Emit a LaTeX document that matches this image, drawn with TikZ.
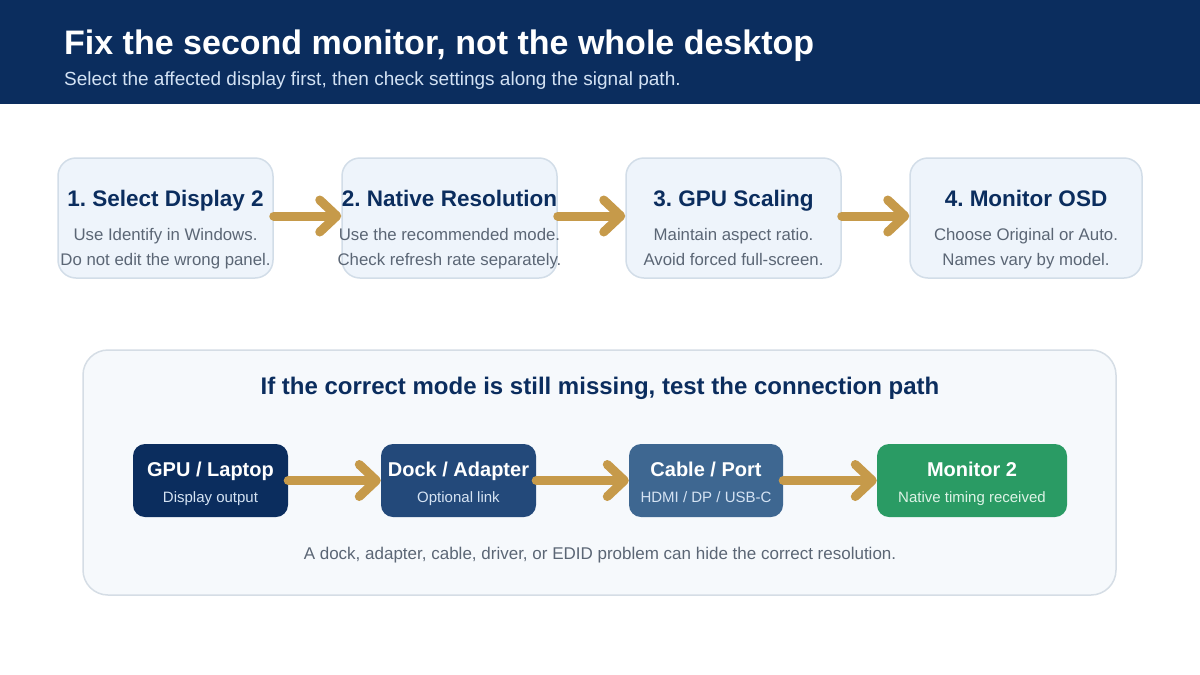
\documentclass[tikz,border=0pt]{standalone}
\usepackage{fontspec}
\setmainfont{Liberation Sans}
\usetikzlibrary{arrows.meta}
\usetikzlibrary{positioning}
\frenchspacing

\definecolor{navy}{HTML}{0B2D5E}
\definecolor{subtle}{HTML}{D3E2F4}
\definecolor{cardfill}{HTML}{EEF4FB}
\definecolor{cardline}{HTML}{D2DDE8}
\definecolor{slate}{HTML}{5B6675}
\definecolor{gold}{HTML}{C69A4A}
\definecolor{panelfill}{HTML}{F6F9FC}
\definecolor{panelline}{HTML}{D5DDE5}
\definecolor{dockblue}{HTML}{23497A}
\definecolor{cableblue}{HTML}{3E6791}
\definecolor{monitorgreen}{HTML}{2A9B64}
\definecolor{palelabel}{HTML}{D5E3F3}
\definecolor{palegreen}{HTML}{DDF3E6}

\tikzset{
	stepcard/.style={draw=cardline, line width=1.5pt, fill=cardfill, rounded corners=18pt,
		minimum width=215pt, minimum height=120pt, inner sep=0pt},
	cardtitle/.style={anchor=base, text=navy, font=\fontsize{22.5}{27}\selectfont\bfseries},
	cardtext/.style={anchor=base, text=slate, font=\fontsize{16.8}{20}\selectfont},
	linkbox/.style={rounded corners=12pt, minimum height=73pt, inner sep=0pt},
	linktitle/.style={anchor=base, text=white, font=\fontsize{20}{24}\selectfont\bfseries},
	linktext/.style={anchor=base, text=palelabel, font=\fontsize{15}{18}\selectfont},
	flow/.style={draw=gold, line width=9pt, line cap=round,
		-{Straight Barb[length=17pt,width=32pt,round]}},
}

\begin{document}
\begin{tikzpicture}[x=1pt, y=-1pt]
		\useasboundingbox (0,0) rectangle (1200,675);
		\fill[white] (0,0) rectangle (1200,675);

		% header
		\fill[navy] (0,0) rectangle (1200,104);
		\node[anchor=base west, text=white, font=\fontsize{34}{40}\selectfont\bfseries, inner sep=0pt]
			(title) at (64,54) {Fix the second monitor, not the whole desktop};
		\node[anchor=base west, text=subtle, font=\fontsize{19}{22}\selectfont, inner sep=0pt]
			(subtitle) at (64,85) {Select the affected display first, then check settings along the signal path.};

		% steps
		\node[stepcard] (s1) at (165.5,218) {};
		\node[stepcard] (s2) at (449.5,218) {};
		\node[stepcard] (s3) at (733.5,218) {};
		\node[stepcard, minimum width=232pt] (s4) at (1026,218) {};

		\draw[flow] ([yshift=2pt]s1.east) -- ([yshift=2pt]s2.west);
		\draw[flow] ([yshift=2pt]s2.east) -- ([yshift=2pt]s3.west);
		\draw[flow] ([yshift=2pt]s3.east) -- ([yshift=2pt]s4.west);

		\node[cardtitle] (s1title) at (165.5,206) {1. Select Display 2};
		\node[cardtext] (s1a) at (165.5,240.5) {Use Identify in Windows.};
		\node[cardtext] (s1b) at (165.5,265) {Do not edit the wrong panel.};

		\node[cardtitle] (s2title) at (449.5,206) {2. Native Resolution};
		\node[cardtext] (s2a) at (449.5,240.5) {Use the recommended mode.};
		\node[cardtext] (s2b) at (449.5,265) {Check refresh rate separately.};

		\node[cardtitle] (s3title) at (733.5,206) {3. GPU Scaling};
		\node[cardtext] (s3a) at (733.5,240.5) {Maintain aspect ratio.};
		\node[cardtext] (s3b) at (733.5,265) {Avoid forced full-screen.};

		\node[cardtitle] (s4title) at (1026,206) {4. Monitor OSD};
		\node[cardtext] (s4a) at (1026,240.5) {Choose Original or Auto.};
		\node[cardtext] (s4b) at (1026,265) {Names vary by model.};

		% connection path
		\node[draw=panelline, line width=1.5pt, fill=panelfill, rounded corners=25pt,
			minimum width=1033pt, minimum height=245pt, inner sep=0pt] (panel) at (599.5,472.5) {};
		\node[anchor=base, text=navy, font=\fontsize{24}{29}\selectfont\bfseries]
			(paneltitle) at (600,394.5) {If the correct mode is still missing, test the connection path};

		\node[linkbox, fill=navy, minimum width=155pt] (gpu) at (210.5,480.5) {};
		\node[linkbox, fill=dockblue, minimum width=155pt] (dock) at (458.5,480.5) {};
		\node[linkbox, fill=cableblue, minimum width=154pt] (cable) at (706,480.5) {};
		\node[linkbox, fill=monitorgreen, minimum width=190pt] (monitor) at (972,480.5) {};

		\draw[flow] (gpu.east) -- (dock.west);
		\draw[flow] (dock.east) -- (cable.west);
		\draw[flow] (cable.east) -- (monitor.west);

		\node[linktitle] (gpuname) at (210.5,476.5) {GPU / Laptop};
		\node[linktext] (gpunote) at (210.5,502.5) {Display output};
		\node[linktitle] (dockname) at (458.5,476.5) {Dock / Adapter};
		\node[linktext] (docknote) at (458.5,502.5) {Optional link};
		\node[linktitle] (cablename) at (706,476.5) {Cable / Port};
		\node[linktext] (cablenote) at (706,502.5) {HDMI / DP / USB-C};
		\node[linktitle] (monitorname) at (972,476.5) {Monitor 2};
		\node[linktext, text=palegreen] (monitornote) at (972,502.5) {Native timing received};

		\node[anchor=base, text=slate, font=\fontsize{17}{20}\selectfont]
			(footnote) at (600,559) {A dock, adapter, cable, driver, or EDID problem can hide the correct resolution.};
	\end{tikzpicture}
\end{document}
